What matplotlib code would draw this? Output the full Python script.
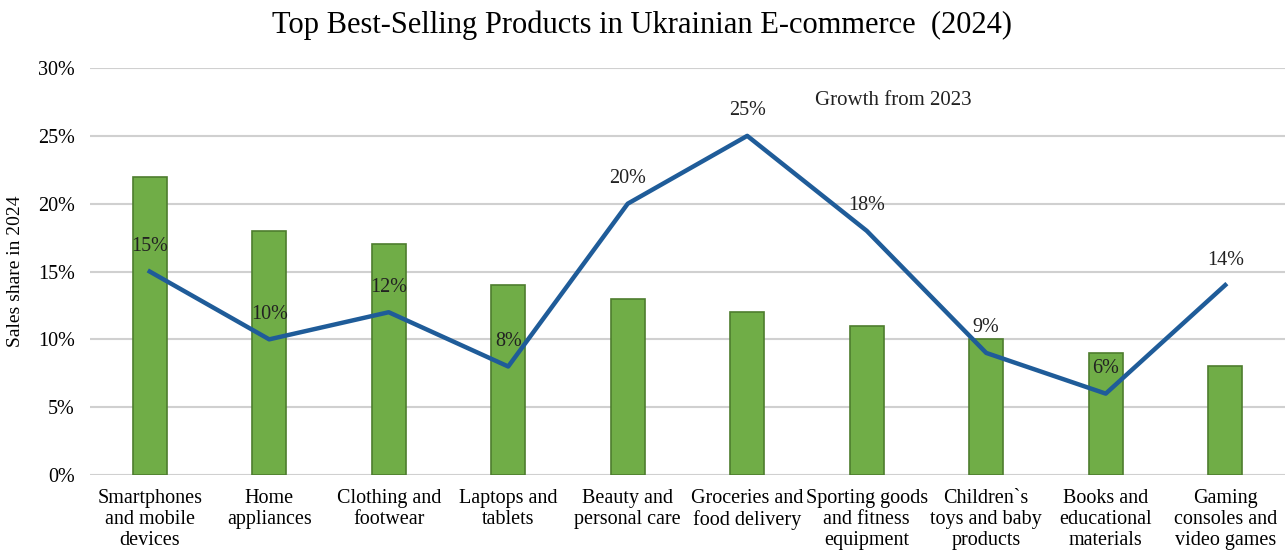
import matplotlib
matplotlib.use('Agg')
import matplotlib.pyplot as plt
from matplotlib.ticker import PercentFormatter

# data
categories = ['Smartphones\nand mobile\ndevices', 'Home\nappliances', 'Clothing and\nfootwear',
              'Laptops and\ntablets', 'Beauty and\npersonal care', 'Groceries and\nfood delivery',
              'Sporting goods\nand fitness\nequipment', 'Children`s\ntoys and baby\nproducts',
              'Books and\neducational\nmaterials', 'Gaming\nconsoles and\nvideo games']
sales_share = [22, 18, 17, 14, 13, 12, 11, 10, 9, 8]
growth = [15, 10, 12, 8, 20, 25, 18, 9, 6, 14]

plt.rcParams['font.family'] = ['Liberation Serif', 'DejaVu Serif']

fig = plt.figure(figsize=(12.85, 5.53), dpi=100)
ax = fig.add_axes([0.070, 0.141, 0.930, 0.736])

x = list(range(len(categories)))
ax.bar(x, sales_share, width=0.284, color='#70AD47', edgecolor='#4E7D2E', linewidth=1.2, zorder=2)
ax.plot(x, growth, color='#1F5C99', linewidth=3.2, zorder=3)
for xi, g in zip(x, growth):
    ax.annotate(f'{g}%', xy=(xi, g), xytext=(0, 18), textcoords='offset points',
                ha='center', va='center', fontsize=14.5, color='#222222', zorder=4)

ax.text(0.672, 0.92, 'Growth from 2023', transform=ax.transAxes, ha='center', va='center',
        fontsize=15, color='#222222')

ax.set_xlim(-0.5, len(categories) - 0.5)
ax.set_ylim(0, 30)
ax.set_yticks(range(0, 31, 5))
ax.yaxis.set_major_formatter(PercentFormatter(decimals=0))
ax.set_xticks(x)
ax.set_xticklabels(categories, fontsize=14.5, linespacing=1.15)
ax.tick_params(axis='y', labelsize=14.5, length=0, pad=11)
ax.tick_params(axis='x', length=0, pad=10)
ax.grid(axis='y', color='#D0D0D0', linewidth=1.5, zorder=0)
ax.set_axisbelow(True)
for s in ax.spines.values():
    s.set_visible(False)
ax.set_ylabel('Sales share in 2024', fontsize=14, labelpad=10)

fig.suptitle('Top Best-Selling Products in Ukrainian E-commerce  (2024)', fontsize=22, y=0.955, va='center')

plt.savefig('out.png', dpi=100)
plt.close()
